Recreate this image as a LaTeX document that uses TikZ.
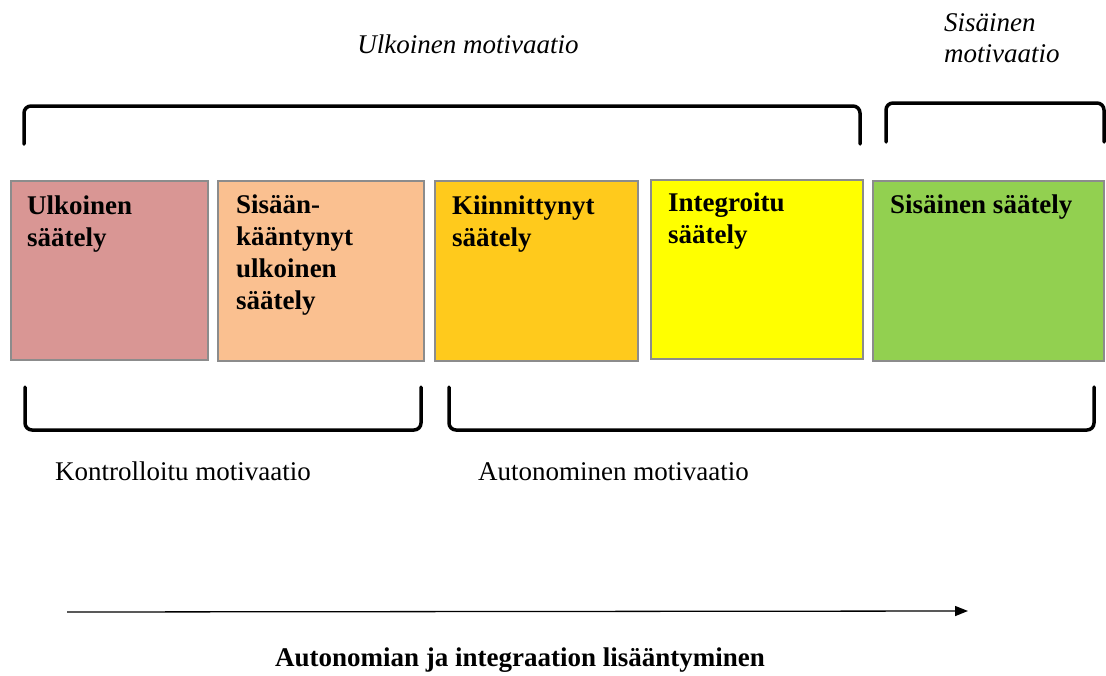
\documentclass[tikz,border=0pt]{standalone}
\usepackage{fontspec}
\setmainfont{Liberation Serif}
\usetikzlibrary{arrows.meta}
\definecolor{cA}{HTML}{D99694}
\definecolor{cB}{HTML}{FAC090}
\definecolor{cC}{HTML}{FFCA1C}
\definecolor{cD}{HTML}{FFFF00}
\definecolor{cE}{HTML}{92D050}
\definecolor{edge}{HTML}{8C8C8C}
\tikzset{
  box/.style={draw=edge, line width=1.2pt, inner sep=0pt, outer sep=0pt, anchor=north west},
  boxtext/.style={anchor=north west, inner sep=0pt, align=left, font=\fontsize{27}{32}\selectfont\bfseries},
  toplab/.style={inner sep=0pt, font=\fontsize{27}{31}\selectfont\itshape},
  botlab/.style={inner sep=0pt, font=\fontsize{27}{31}\selectfont},
  brk/.style={line width=3.5pt, rounded corners=7pt, line cap=round},
}
\begin{document}
\begin{tikzpicture}[x=1pt, y=-1pt]
\useasboundingbox (0,0) rectangle (1106,675);
% boxes
\node[box, fill=cA, minimum width=197pt, minimum height=179pt] (b1) at (11,181) {};
\node[box, fill=cB, minimum width=206pt, minimum height=180pt] (b2) at (218,181) {};
\node[box, fill=cC, minimum width=203pt, minimum height=180pt] (b3) at (435,181) {};
\node[box, fill=cD, minimum width=212pt, minimum height=179pt] (b4) at (651,180) {};
\node[box, fill=cE, minimum width=231pt, minimum height=180pt] (b5) at (873,181) {};
% box texts
\node[boxtext] (t1) at (27,196) {Ulkoinen\\säätely};
\node[boxtext] (t2) at (236,195) {Sisään-\\kääntynyt\\ulkoinen\\säätely};
\node[boxtext] (t3) at (452,196) {Kiinnittynyt\\säätely};
\node[boxtext] (t4) at (668,193) {Integroitu\\säätely};
\node[boxtext] (t5) at (890,195) {Sisäinen säätely};
% top labels
\node[toplab] (ul) at (468,44) {Ulkoinen motivaatio};
\node[toplab, anchor=west, align=left] (si) at (944,38) {Sisäinen\\motivaatio};
% top brackets
\draw[brk] (24,144) -- (24,106) -- (860,106) -- (860,144);
\draw[brk] (886,142) -- (886,103) -- (1104,103) -- (1104,142);
% bottom brackets
\draw[brk] (25,387) -- (25,430) -- (421,430) -- (421,387);
\draw[brk] (449,387) -- (449,430) -- (1094,430) -- (1094,387);
% bottom labels
\node[botlab, anchor=west] (kl) at (55,471) {Kontrolloitu motivaatio};
\node[botlab, anchor=west] (al) at (478,472) {Autonominen motivaatio};
% arrow
\coordinate (as) at (67,612);
\coordinate (ae) at (968,611);
\draw[line width=1.3pt, -{Triangle[length=13pt,width=10pt]}] (as) -- (ae);
\node[inner sep=0pt, font=\fontsize{27}{31}\selectfont\bfseries] (ax) at (520,660) {Autonomian ja integraation lisääntyminen};
\end{tikzpicture}
\end{document}
